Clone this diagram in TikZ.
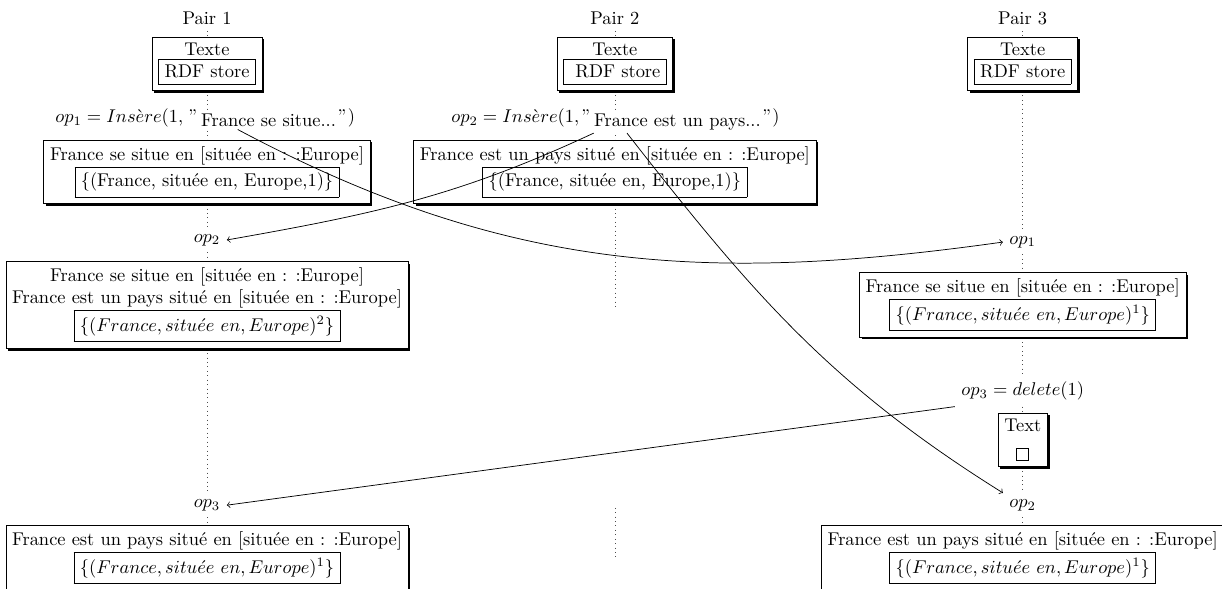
\documentclass[tikz,border=0pt]{standalone}
\usepackage{amsmath}
\usepackage{amssymb}
\usepackage{tikz}
\usetikzlibrary{shadows}
\usetikzlibrary{backgrounds}

\begin{document}
\begin{tikzpicture}[x=0.981cm, y=0.981cm,
	pairbox/.style={draw, fill=white, align=center, drop shadow={shadow xshift=1.2pt, shadow yshift=-1.2pt, fill=black, opacity=1}},
	lifeline/.style={dotted, black!70},
	oplabel/.style={fill=white},
	msgtext/.style={fill=white, inner xsep=0pt, inner ysep=1.5pt}
	]
	\useasboundingbox (0,0) rectangle (23.73,-11.42);
	
	\def\xA{4.02}
	\def\xB{11.94}
	\def\xC{19.86}
	
	\node (P1) at (\xA,-0.35) {Pair 1};
	\node (P2) at (\xB,-0.35) {Pair 2};
	\node (P3) at (\xC,-0.35) {Pair 3};
	
	\node[pairbox] (S1) at (\xA,-1.24) {Texte\\\fbox{RDF store}};
	\node[pairbox] (S2) at (\xB,-1.24) {Texte\\\fbox{ RDF store}};
	\node[pairbox] (S3) at (\xC,-1.24) {Texte\\\fbox{RDF store}};
	
	% insertions
	\node[msgtext, anchor=base west] (M1) at (3.90,-2.45) {France se situe...};
	\node[msgtext, anchor=base east] (I1) at ([xshift=-1pt, yshift=2pt]M1.base west) {$op_1 = Ins\grave{e}re(1,\,"$};
	\node[msgtext, anchor=base west] (C1) at ([xshift=1pt, yshift=2pt]M1.base east) {$")$};
	
	\node[msgtext, anchor=base west] (M2) at (11.53,-2.45) {France est un pays...~};
	\node[msgtext, anchor=base east] (I2) at ([xshift=-1pt, yshift=2pt]M2.base west) {$op_2 = Ins\grave{e}re(1,"$};
	\node[msgtext, anchor=base west] (C2) at ([xshift=1pt, yshift=2pt]M2.base east) {$")$};
	
	\node[pairbox] (B11) at (\xA,-3.34) {France se situe en [située en : :Europe]\\\fbox{\{(France, située en, Europe,1)\}}};
	\node[pairbox] (B21) at (\xB,-3.34) {France est un pays situé en [située en : :Europe]\\\fbox{\{(France, située en, Europe,1)\}}};
	
	\node[oplabel] (O2a) at (\xA,-4.66) {$op_2$};
	\node[oplabel] (O1c) at (\xC,-4.70) {$op_1$};
	
	\node[pairbox] (B12) at (\xA,-5.92) {France se situe en [située en : :Europe]\\France est un pays situé en [située en : :Europe]\\\fbox{$\{(France, situ\acute{e}e\ en, Europe)^2\}$}};
	\node[pairbox] (B32) at (\xC,-5.92) {France se situe en [située en : :Europe]\\\fbox{$\{(France, situ\acute{e}e\ en, Europe)^1\}$}};
	
	% suppression
	\node (D3) at (\xC,-7.59) {$op_3 = delete(1)$};
	\node[pairbox] (T3) at (\xC,-8.54) {Text\\\fbox{}};
	
	\node[oplabel] (O3a) at (\xA,-9.81) {$op_3$};
	\node[oplabel] (O2c) at (\xC,-9.81) {$op_2$};
	
	\node[pairbox] (B13) at (\xA,-10.83) {France est un pays situé en [située en : :Europe]\\\fbox{$\{(France, situ\acute{e}e\ en, Europe)^1\}$}};
	\node[pairbox] (B33) at (\xC,-10.83) {France est un pays situé en [située en : :Europe]\\\fbox{$\{(France, situ\acute{e}e\ en, Europe)^1\}$}};
	
	\coordinate (E2) at (\xB,-6.02);
	\coordinate (F2) at (\xB,-9.86);
	\coordinate (G2) at (\xB,-10.87);
	
	\begin{scope}[on background layer]
		\draw[lifeline] (P1) -- (S1) -- (B11) -- (O2a) -- (B12) -- (O3a) -- (B13);
		\draw[lifeline] (P2) -- (S2) -- (B21) -- (E2);
		\draw[lifeline] (F2) -- (G2);
		\draw[lifeline] (P3) -- (S3) -- (O1c) -- (B32) -- (D3) -- (T3) -- (O2c) -- (B33);
	\end{scope}
	
	\draw[->] ([xshift=20pt]M1.south west) to[out=-28, in=188] (O1c.west);
	\draw[->] (M2.south west) to[out=205, in=10] (O2a.east);
	\draw[->] ([xshift=18pt]M2.south west) to[out=-52, in=148] (O2c.north west);
	\draw[->] (D3.south west) -- (O3a.east);
	
\end{tikzpicture}
\end{document}
